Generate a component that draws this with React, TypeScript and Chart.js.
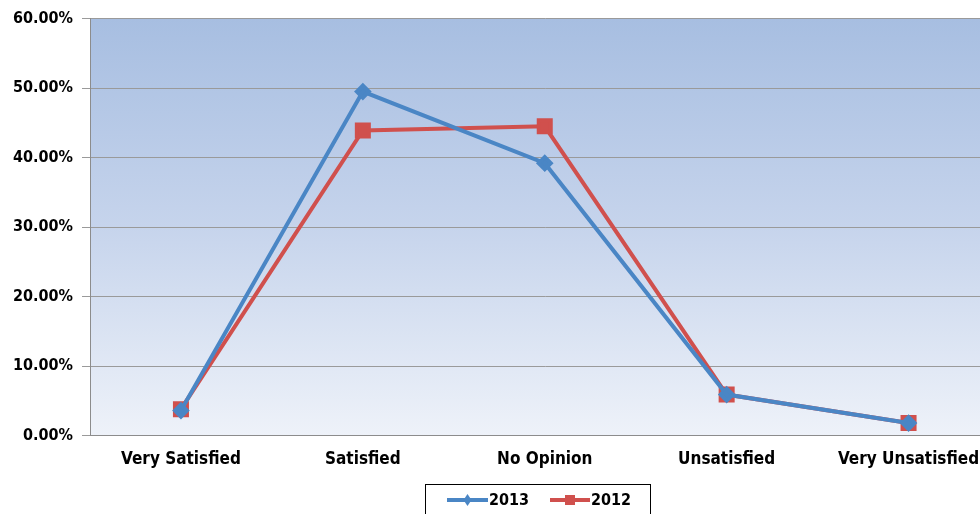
import React, { useEffect, useRef } from "react";
import { Chart, registerables } from "chart.js";

Chart.register(...registerables);

const categories = ["Very Satisfied", "Satisfied", "No Opinion", "Unsatisfied", "Very Unsatisfied"];
const series2013 = [3.6, 49.5, 39.2, 5.9, 1.8];
const series2012 = [3.8, 43.9, 44.5, 5.9, 1.8];
const seriesNames = ["2013", "2012"];
const yTicks = [0, 10, 20, 30, 40, 50, 60];

const BLUE = "#4a86c5";
const RED = "#d0504d";
const FONT = "'DejaVu Sans Condensed', 'DejaVu Sans', sans-serif";

const bgPlugin = {
  id: "bgGradient",
  beforeDraw(chart: any) {
    const { ctx, chartArea } = chart;
    if (!chartArea) return;
    const g = ctx.createLinearGradient(0, chartArea.top, 0, chartArea.bottom);
    g.addColorStop(0, "#a7bee1");
    g.addColorStop(0.5, "#c6d4ec");
    g.addColorStop(1, "#eef2f9");
    ctx.save();
    ctx.fillStyle = g;
    ctx.fillRect(chartArea.left, chartArea.top, chartArea.right - chartArea.left, chartArea.bottom - chartArea.top);
    ctx.restore();
  },
};

const legendPlugin = {
  id: "boxLegend",
  afterDraw(chart: any) {
    const { ctx } = chart;
    ctx.save();
    ctx.strokeStyle = "#000";
    ctx.lineWidth = 1;
    ctx.strokeRect(425.5, 484.5, 225, 40);
    const items = [
      { name: seriesNames[0], color: BLUE, style: "rectRot", x0: 447, x1: 488, tx: 489 },
      { name: seriesNames[1], color: RED, style: "rect", x0: 550, x1: 590, tx: 591 },
    ];
    const y = 500;
    ctx.font = `bold 16px ${FONT}`;
    ctx.textBaseline = "middle";
    ctx.textAlign = "left";
    for (const it of items) {
      ctx.strokeStyle = it.color;
      ctx.lineWidth = 4;
      ctx.beginPath();
      ctx.moveTo(it.x0, y);
      ctx.lineTo(it.x1, y);
      ctx.stroke();
      ctx.fillStyle = it.color;
      const cx = (it.x0 + it.x1) / 2;
      ctx.beginPath();
      if (it.style === "rect") {
        ctx.rect(cx - 5, y - 5, 10, 10);
      } else {
        ctx.moveTo(cx, y - 6);
        ctx.lineTo(cx + 4, y);
        ctx.lineTo(cx, y + 6);
        ctx.lineTo(cx - 4, y);
        ctx.closePath();
      }
      ctx.fill();
      ctx.fillStyle = "#000";
      ctx.fillText(it.name, it.tx, y + 1);
    }
    ctx.restore();
  },
};

export default function App() {
  const ref = useRef<HTMLCanvasElement>(null);
  useEffect(() => {
    if (!ref.current) return;
    const chart = new Chart(ref.current, {
      type: "line",
      data: {
        labels: categories,
        datasets: [
          {
            label: seriesNames[0],
            data: series2013,
            borderColor: BLUE,
            backgroundColor: BLUE,
            borderWidth: 4,
            pointStyle: "rectRot",
            pointRadius: 6,
            tension: 0,
          },
          {
            label: seriesNames[1],
            data: series2012,
            borderColor: RED,
            backgroundColor: RED,
            borderWidth: 4,
            pointStyle: "rect",
            pointRadius: 8.5,
            tension: 0,
          },
        ],
      },
      options: {
        animation: false,
        responsive: false,
        devicePixelRatio: 1,
        layout: { padding: { top: 8, right: 5, bottom: 38, left: 0 } },
        plugins: { legend: { display: false }, tooltip: { enabled: false } },
        scales: {
          x: {
            offset: true,
            grid: { display: false, offset: true },
            border: { display: true, color: "#8c8c8c", width: 1 },
            ticks: {
              color: "#000",
              font: { family: FONT, size: 17, weight: "bold" },
              padding: 6,
              maxRotation: 0,
              autoSkip: false,
            },
          },
          y: {
            min: 0,
            max: 60,
            afterFit(scale: any) {
              scale.width = 90;
            },
            afterBuildTicks(scale: any) {
              scale.ticks = yTicks.map((v) => ({ value: v }));
            },
            grid: { color: "#9a9a9a", lineWidth: 1, tickLength: 8 },
            border: { display: true, color: "#8c8c8c", width: 1 },
            ticks: {
              color: "#000",
              font: { family: FONT, size: 16, weight: "bold" },
              padding: 9,
              callback: (v: any) => Number(v).toFixed(2) + "%",
            },
          },
        },
      },
      plugins: [bgPlugin, legendPlugin],
    });
    return () => chart.destroy();
  }, []);
  return (
    <div style={{ position: "absolute", left: 0, top: 0, width: 980, height: 514, overflow: "hidden", background: "#fff" }}>
      <canvas ref={ref} width={1012} height={514} style={{ width: 1012, height: 514, display: "block" }} />
    </div>
  );
}
